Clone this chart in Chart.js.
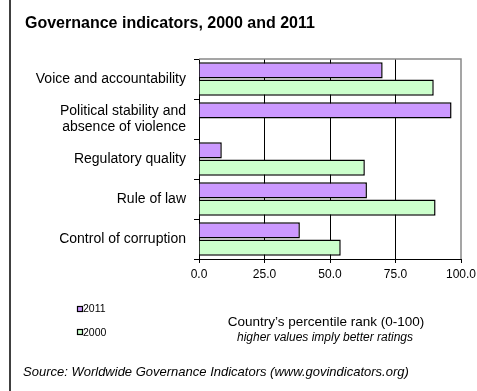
<!DOCTYPE html>
<html lang="en">
<head>
  <meta charset="UTF-8" />
  <title>Governance indicators, 2000 and 2011</title>
  <style>
    html, body { margin:0; padding:0; background:#fff; }
    #wrap { width:477px; height:391px; position:relative; }
  </style>
  <script src="https://cdn.jsdelivr.net/npm/chart.js"></script>
</head>
<body>
<div id="wrap"><canvas id="govChart"></canvas></div>
<script>
  // indicators, top to bottom
  const categories = [
    'Voice and accountability',
    ['Political stability and', 'absence of violence'],
    'Regulatory quality',
    'Rule of law',
    'Control of corruption'
  ];
  const seriesLabels = ['2011', '2000'];
  const values2011 = [70.1, 96.4, 8.7, 64.1, 38.5];
  const values2000 = [89.6, null, 63.3, 90.3, 54.1];
  const xTicks = [0, 25, 50, 75, 100];

  const FONT = '"Liberation Sans", Arial, sans-serif';
  const colors = ['#cc99ff', '#ccffcc'];

  // frame line, plot border, titles, legend and source note
  const extras = {
    id: 'extras',
    afterDraw(chart) {
      const c = chart.ctx, a = chart.chartArea;
      c.save();
      c.strokeStyle = '#000'; c.lineWidth = 1.5;
      c.beginPath(); c.moveTo(10, 0); c.lineTo(10, 391); c.stroke();

      c.strokeStyle = '#888'; c.lineWidth = 1.5;
      c.beginPath(); c.moveTo(a.left, a.top); c.lineTo(a.right, a.top); c.lineTo(a.right, a.bottom); c.stroke();

      c.fillStyle = '#000'; c.textBaseline = 'middle'; c.textAlign = 'left';
      c.font = 'bold 16px ' + FONT;
      c.fillText('Governance indicators, 2000 and 2011', 25, 24);

      // legend, one entry per row
      c.font = '10.5px ' + FONT;
      chart.data.datasets.forEach((ds, i) => {
        const y = 309 + i * 23;
        c.fillStyle = ds.backgroundColor; c.fillRect(77.5, y - 2.5, 5, 5);
        c.strokeStyle = '#000'; c.lineWidth = 1.2; c.strokeRect(77.5, y - 2.5, 5, 5);
        c.fillStyle = '#000'; c.fillText(ds.label, 83, y + (i ? 1.5 : 0));
      });

      c.textAlign = 'center';
      c.font = '13.5px ' + FONT;
      c.fillText('Country\u2019s percentile rank (0-100)', 326, 322);
      c.font = 'italic 12px ' + FONT;
      c.fillText('higher values imply better ratings', 325, 338);

      c.textAlign = 'left';
      c.font = 'italic 13px ' + FONT;
      c.fillText('Source: Worldwide Governance Indicators (www.govindicators.org)', 23, 372);
      c.restore();
    }
  };

  new Chart(document.getElementById('govChart'), {
    type: 'bar',
    data: {
      labels: categories,
      datasets: [
        { label: seriesLabels[0], data: values2011, backgroundColor: colors[0], borderColor: '#000', borderWidth: 1.5 },
        { label: seriesLabels[1], data: values2000, backgroundColor: colors[1], borderColor: '#000', borderWidth: 1.5 }
      ]
    },
    options: {
      indexAxis: 'y',
      responsive: true,
      maintainAspectRatio: false,
      animation: false,
      categoryPercentage: 0.86,
      barPercentage: 0.95,
      layout: { padding: { left: 0, top: 59, right: 16, bottom: 102 } },
      plugins: { legend: { display: false }, title: { display: false }, tooltip: { enabled: false } },
      scales: {
        x: {
          min: 0, max: 100,
          afterBuildTicks: s => { s.ticks = xTicks.map(v => ({ value: v })); },
          afterFit: s => { s.height = 30; s.paddingRight = 0; },
          border: { display: true, color: '#000', width: 1 },
          grid: {
            color: ctx => (ctx.tick && ctx.tick.value > 0 && ctx.tick.value < 100) ? '#000' : 'rgba(0,0,0,0)',
            tickColor: '#000', tickLength: 4, lineWidth: 1
          },
          ticks: { color: '#000', font: { family: FONT, size: 12 }, padding: 4, callback: v => Number(v).toFixed(1) }
        },
        y: {
          afterFit: s => { s.width = 199; },
          border: { display: true, color: '#000', width: 1 },
          grid: { drawOnChartArea: false, drawTicks: true, tickLength: 5, color: '#000', offset: true },
          ticks: { color: '#000', font: { family: FONT, size: 14, lineHeight: 1.15 }, padding: 8 }
        }
      }
    },
    plugins: [extras]
  });
</script>
</body>
</html>
